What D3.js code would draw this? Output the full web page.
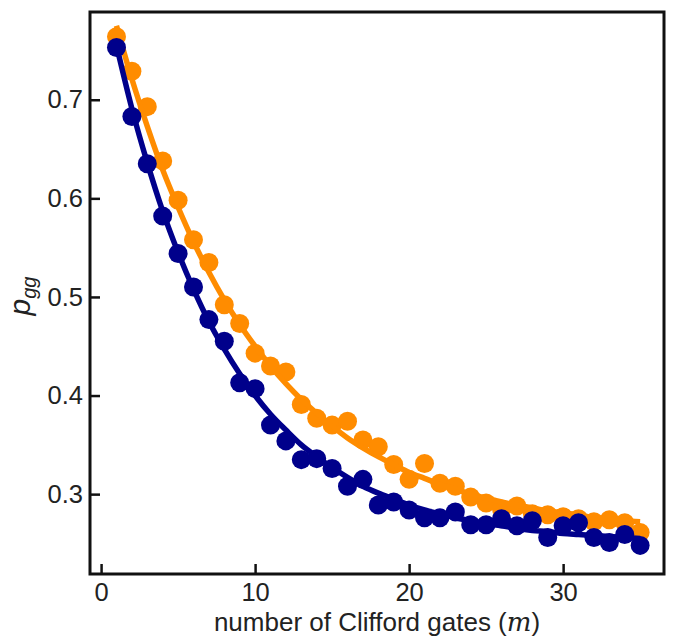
<!DOCTYPE html>
<head>
  <meta charset="utf-8">
  <style>
    body { margin: 0; background: #fff; }
    text { font-family: "Liberation Sans", Arial, sans-serif; fill: #222; }
  </style>
</head>
<body>
  <div id="chart"></div>
  <script src="https://d3js.org/d3.v7.min.js"></script>
  <script>
    // number of Clifford gates
    const gates = d3.range(1, 36);

    // measured p_gg, orange series
    const orangePts = [0.764, 0.729, 0.693, 0.638, 0.598, 0.558, 0.535, 0.492, 0.473, 0.443,
      0.430, 0.424, 0.391, 0.377, 0.370, 0.374, 0.355, 0.348, 0.330, 0.315,
      0.331, 0.311, 0.308, 0.297, 0.291, 0.285, 0.288, 0.280, 0.279, 0.277,
      0.275, 0.272, 0.274, 0.271, 0.261];
    // measured p_gg, navy series
    const navyPts = [0.753, 0.683, 0.635, 0.582, 0.544, 0.510, 0.477, 0.455, 0.413, 0.407,
      0.370, 0.354, 0.335, 0.336, 0.326, 0.308, 0.315, 0.289, 0.292, 0.284,
      0.276, 0.276, 0.282, 0.269, 0.269, 0.275, 0.268, 0.273, 0.256, 0.268,
      0.271, 0.256, 0.251, 0.259, 0.248];

    // fitted curves
    const orangeFit = [0.775, 0.721, 0.673, 0.629, 0.591, 0.556, 0.525, 0.497, 0.472, 0.450,
      0.430, 0.412, 0.396, 0.382, 0.369, 0.357, 0.347, 0.338, 0.330, 0.322,
      0.316, 0.310, 0.305, 0.300, 0.296, 0.292, 0.289, 0.286, 0.283, 0.281,
      0.279, 0.276, 0.275, 0.273, 0.272];
    const navyFit = [0.755, 0.691, 0.636, 0.587, 0.545, 0.508, 0.475, 0.447, 0.422, 0.400,
      0.381, 0.365, 0.350, 0.338, 0.327, 0.317, 0.308, 0.301, 0.295, 0.289,
      0.284, 0.280, 0.276, 0.273, 0.270, 0.268, 0.265, 0.263, 0.262, 0.260,
      0.259, 0.258, 0.257, 0.256, 0.255];

    const xTicks = [0, 10, 20, 30];
    const yTicks = [0.3, 0.4, 0.5, 0.6, 0.7];

    const W = 674, H = 636;
    const margin = { top: 12, right: 10, bottom: 62, left: 90 };
    const width = W - margin.left - margin.right,
      height = H - margin.top - margin.bottom;

    const svg = d3.select('#chart').append('svg')
      .attr('width', W).attr('height', H);
    const g = svg.append('g')
      .attr('transform', `translate(${margin.left}, ${margin.top})`);

    const x = d3.scaleLinear().domain([-0.72, 36.55]).range([0, width]);
    const y = d3.scaleLinear().domain([0.219, 0.789]).range([height, 0]);

    const line = d3.line()
      .x((d, i) => x(gates[i]))
      .y(d => y(d))
      .curve(d3.curveMonotoneX);

    const series = [
      { pts: orangePts, fit: orangeFit, color: '#ff8c00' },
      { pts: navyPts, fit: navyFit, color: '#00008b' }
    ];

    series.forEach(s => {
      g.append('g').selectAll('circle')
        .data(s.pts)
        .join('circle')
        .attr('cx', (d, i) => x(gates[i]))
        .attr('cy', d => y(d))
        .attr('r', 9.5)
        .attr('fill', s.color);
      g.append('path')
        .datum(s.fit)
        .attr('fill', 'none')
        .attr('stroke', s.color)
        .attr('stroke-width', 5.5)
        .attr('d', line);
    });

    // axes with inward ticks
    const yAxis = g.append('g')
      .call(d3.axisLeft(y).tickValues(yTicks).tickFormat(d3.format('.1f')).tickSizeInner(-10).tickSizeOuter(0).tickPadding(7));
    const xAxis = g.append('g')
      .attr('transform', `translate(0, ${height})`)
      .call(d3.axisBottom(x).tickValues(xTicks).tickSizeInner(-10).tickSizeOuter(0).tickPadding(9));
    [xAxis, yAxis].forEach(a => {
      a.select('.domain').remove();
      a.selectAll('line').attr('stroke', '#111').attr('stroke-width', 2.5);
      a.selectAll('text').attr('font-size', 25.5).attr('fill', '#222')
        .attr('font-family', '"Liberation Sans", Arial, sans-serif');
    });

    // frame
    g.append('rect')
      .attr('width', width).attr('height', height)
      .attr('fill', 'none').attr('stroke', '#111').attr('stroke-width', 3);

    // axis labels
    const xl = svg.append('text')
      .attr('x', 377)
      .attr('y', 631)
      .attr('text-anchor', 'middle')
      .attr('font-size', 26);
    xl.append('tspan').text('number of Clifford gates (');
    xl.append('tspan').attr('font-family', '"DejaVu Serif", "Liberation Serif", serif')
      .attr('font-style', 'italic').text('m');
    xl.append('tspan').text(')');

    const yl = svg.append('text')
      .attr('transform', `translate(30, ${margin.top + height / 2 + 3}) rotate(-90)`)
      .attr('text-anchor', 'middle')
      .attr('font-family', '"Liberation Serif", serif')
      .attr('font-style', 'italic')
      .attr('font-size', 30);
    yl.append('tspan').text('p');
    yl.append('tspan').attr('font-size', 20).attr('dy', 6).text('gg');
  </script>
</body>
</html>
